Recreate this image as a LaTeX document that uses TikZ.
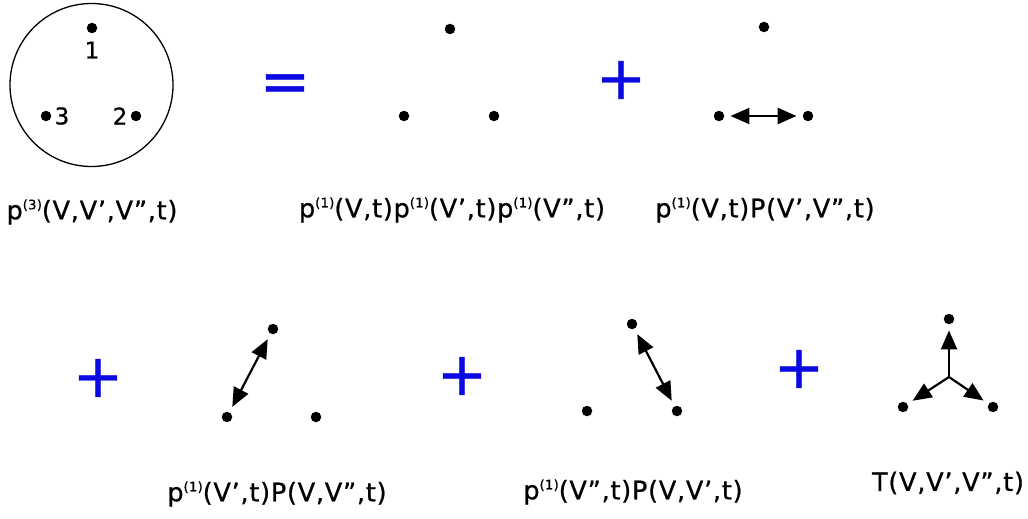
\documentclass[tikz,border=0pt]{standalone}
\usepackage{fontspec}
\setmainfont{DejaVu Sans}[LetterSpace=3,FakeBold=0.8]
\usetikzlibrary{arrows.meta,positioning}
\definecolor{opblue}{RGB}{10,10,225}
\newcommand{\pone}[1]{p\raisebox{10pt}{\fontsize{13}{14}\selectfont(#1)}}

\begin{document}
\begin{tikzpicture}[x=1pt,y=-1pt,
  pt/.style={circle,fill=black,inner sep=0pt,minimum size=10.5pt},
  num/.style={font=\fontsize{23}{25}\selectfont,inner sep=0pt},
  lbl/.style={font=\fontsize{25.5}{27}\selectfont,inner sep=0pt},
  op/.style={font=\fontsize{60}{62}\selectfont,text=opblue,inner sep=0pt},
  arr/.style={{Triangle[length=19pt,width=16pt]}-{Triangle[length=19pt,width=16pt]},line width=2.2pt,shorten <=6pt,shorten >=6pt},
  ray/.style={-{Triangle[length=19pt,width=16pt]},line width=2.2pt,shorten >=6pt}
]
\useasboundingbox (0,0) rectangle (1028,519);
% ---------------- three-point function ----------------
\node[circle,draw,line width=1.3pt,minimum size=163pt,inner sep=0pt] (ring) at (91.5,85) {};
\node[pt] (c1) at (92,28) {};
\node[pt] (c2) at (136,116) {};
\node[pt] (c3) at (46,116) {};
\node[num,below=8pt of c1] (n1) {1};
\node[num,left=3pt of c2] (n2) {2};
\node[num,right=3pt of c3] (n3) {3};
\node[lbl] (l0) at (92,212) {\pone{3}(V,V’,V”,t)};
% ---------------- top row ----------------
\node[op] (eq) at (285,88) {=};
\node[pt] (a1) at (450,29) {};
\node[pt] (a2) at (494,116) {};
\node[pt] (a3) at (404,116) {};
\node[lbl] (l1) at (452,210) {\pone{1}(V,t)\pone{1}(V’,t)\pone{1}(V”,t)};
\node[op] (p1) at (621,80) {+};
\node[pt] (b1) at (764,27) {};
\node[pt] (b2) at (808,116) {};
\node[pt] (b3) at (719,116) {};
\draw[arr] (b3) -- (b2);
\node[lbl] (l2) at (765,210) {\pone{1}(V,t)P(V’,V”,t)};
% ---------------- bottom row ----------------
\node[op] (p2) at (98,378) {+};
\node[pt] (d1) at (273,329) {};
\node[pt] (d2) at (316,417) {};
\node[pt] (d3) at (227,417) {};
\draw[arr] (d3) -- (d1);
\node[lbl] (l3) at (277,494) {\pone{1}(V’,t)P(V,V”,t)};
\node[op] (p3) at (462,376) {+};
\node[pt] (e1) at (632,324) {};
\node[pt] (e2) at (677,411) {};
\node[pt] (e3) at (587,411) {};
\draw[arr] (e1) -- (e2);
\node[lbl] (l4) at (633,492) {\pone{1}(V”,t)P(V,V’,t)};
\node[op] (p4) at (799,369) {+};
\node[pt] (f1) at (949,319) {};
\node[pt] (f2) at (993,407) {};
\node[pt] (f3) at (903,407) {};
\coordinate (hub) at (949,377);
\draw[ray] (hub) -- (f1);
\draw[ray] (hub) -- (f2);
\draw[ray] (hub) -- (f3);
\node[lbl] (l5) at (948,483) {T(V,V’,V”,t)};
\end{tikzpicture}
\end{document}
